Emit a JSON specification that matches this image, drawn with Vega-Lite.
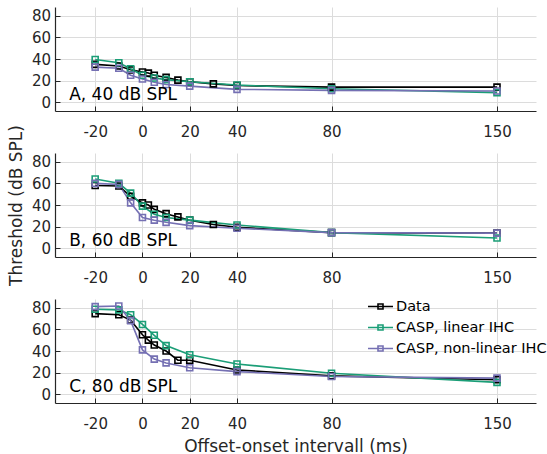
{
  "$schema": "https://vega.github.io/schema/vega-lite/v6.json",
  "padding": {"left": 7, "top": 7, "right": 0, "bottom": 0},
  "background": "white",
  "spacing": 42,
  "bounds": "flush",
  "config": {
    "font": "DejaVu Sans",
    "view": {"stroke": null},
    "axis": {
      "domainColor": "#262626",
      "domainWidth": 1.2,
      "tickColor": "#262626",
      "tickSize": -5,
      "tickWidth": 1,
      "gridColor": "#dcdcdc",
      "gridWidth": 1,
      "labelFontSize": 15,
      "labelColor": "#262626",
      "labelOverlap": false,
      "labelExpr": "'' + datum.value",
      "titleFontSize": 17,
      "titleFontWeight": "normal",
      "titleColor": "#262626"
    },
    "axisX": {"labelPadding": 18, "tickCount": 20},
    "axisY": {"labelPadding": 9.5, "tickCount": 10}
  },
  "datasets": {
    "thr": [
      {"level": 40, "series": "Data", "interval": -20, "threshold": 35},
      {"level": 40, "series": "Data", "interval": -10, "threshold": 33.5},
      {"level": 40, "series": "Data", "interval": -5, "threshold": 30},
      {"level": 40, "series": "Data", "interval": 0, "threshold": 28},
      {"level": 40, "series": "Data", "interval": 2.5, "threshold": 27},
      {"level": 40, "series": "Data", "interval": 5, "threshold": 25},
      {"level": 40, "series": "Data", "interval": 10, "threshold": 23},
      {"level": 40, "series": "Data", "interval": 15, "threshold": 20.5},
      {"level": 40, "series": "Data", "interval": 20, "threshold": 19},
      {"level": 40, "series": "Data", "interval": 30, "threshold": 17},
      {"level": 40, "series": "Data", "interval": 40, "threshold": 15.5},
      {"level": 40, "series": "Data", "interval": 80, "threshold": 14},
      {"level": 40, "series": "Data", "interval": 150, "threshold": 14},
      {"level": 40, "series": "CASP, linear IHC", "interval": -20, "threshold": 39.5},
      {"level": 40, "series": "CASP, linear IHC", "interval": -10, "threshold": 36.5},
      {"level": 40, "series": "CASP, linear IHC", "interval": -5, "threshold": 31},
      {"level": 40, "series": "CASP, linear IHC", "interval": 0, "threshold": 25},
      {"level": 40, "series": "CASP, linear IHC", "interval": 5, "threshold": 22.5},
      {"level": 40, "series": "CASP, linear IHC", "interval": 10, "threshold": 21},
      {"level": 40, "series": "CASP, linear IHC", "interval": 20, "threshold": 19},
      {"level": 40, "series": "CASP, linear IHC", "interval": 40, "threshold": 16},
      {"level": 40, "series": "CASP, linear IHC", "interval": 80, "threshold": 12.5},
      {"level": 40, "series": "CASP, linear IHC", "interval": 150, "threshold": 9},
      {"level": 40, "series": "CASP, non-linear IHC", "interval": -20, "threshold": 32.5},
      {"level": 40, "series": "CASP, non-linear IHC", "interval": -10, "threshold": 31.5},
      {"level": 40, "series": "CASP, non-linear IHC", "interval": -5, "threshold": 25},
      {"level": 40, "series": "CASP, non-linear IHC", "interval": 0, "threshold": 21.5},
      {"level": 40, "series": "CASP, non-linear IHC", "interval": 5, "threshold": 18.5},
      {"level": 40, "series": "CASP, non-linear IHC", "interval": 10, "threshold": 16.5},
      {"level": 40, "series": "CASP, non-linear IHC", "interval": 20, "threshold": 15},
      {"level": 40, "series": "CASP, non-linear IHC", "interval": 40, "threshold": 12},
      {"level": 40, "series": "CASP, non-linear IHC", "interval": 80, "threshold": 11},
      {"level": 40, "series": "CASP, non-linear IHC", "interval": 150, "threshold": 10.5},

      {"level": 60, "series": "Data", "interval": -20, "threshold": 58},
      {"level": 60, "series": "Data", "interval": -10, "threshold": 57.5},
      {"level": 60, "series": "Data", "interval": -5, "threshold": 48},
      {"level": 60, "series": "Data", "interval": 0, "threshold": 42},
      {"level": 60, "series": "Data", "interval": 2.5, "threshold": 40},
      {"level": 60, "series": "Data", "interval": 5, "threshold": 36},
      {"level": 60, "series": "Data", "interval": 10, "threshold": 32},
      {"level": 60, "series": "Data", "interval": 15, "threshold": 29},
      {"level": 60, "series": "Data", "interval": 20, "threshold": 26},
      {"level": 60, "series": "Data", "interval": 30, "threshold": 22},
      {"level": 60, "series": "Data", "interval": 40, "threshold": 19.5},
      {"level": 60, "series": "Data", "interval": 80, "threshold": 14.5},
      {"level": 60, "series": "Data", "interval": 150, "threshold": 14},
      {"level": 60, "series": "CASP, linear IHC", "interval": -20, "threshold": 64},
      {"level": 60, "series": "CASP, linear IHC", "interval": -10, "threshold": 60},
      {"level": 60, "series": "CASP, linear IHC", "interval": -5, "threshold": 51},
      {"level": 60, "series": "CASP, linear IHC", "interval": 0, "threshold": 39},
      {"level": 60, "series": "CASP, linear IHC", "interval": 5, "threshold": 31.5},
      {"level": 60, "series": "CASP, linear IHC", "interval": 10, "threshold": 28.5},
      {"level": 60, "series": "CASP, linear IHC", "interval": 20, "threshold": 26},
      {"level": 60, "series": "CASP, linear IHC", "interval": 40, "threshold": 21.5},
      {"level": 60, "series": "CASP, linear IHC", "interval": 80, "threshold": 14.5},
      {"level": 60, "series": "CASP, linear IHC", "interval": 150, "threshold": 9.5},
      {"level": 60, "series": "CASP, non-linear IHC", "interval": -20, "threshold": 60},
      {"level": 60, "series": "CASP, non-linear IHC", "interval": -10, "threshold": 59},
      {"level": 60, "series": "CASP, non-linear IHC", "interval": -5, "threshold": 42},
      {"level": 60, "series": "CASP, non-linear IHC", "interval": 0, "threshold": 28.5},
      {"level": 60, "series": "CASP, non-linear IHC", "interval": 5, "threshold": 26},
      {"level": 60, "series": "CASP, non-linear IHC", "interval": 10, "threshold": 24},
      {"level": 60, "series": "CASP, non-linear IHC", "interval": 20, "threshold": 21},
      {"level": 60, "series": "CASP, non-linear IHC", "interval": 40, "threshold": 18.5},
      {"level": 60, "series": "CASP, non-linear IHC", "interval": 80, "threshold": 14.5},
      {"level": 60, "series": "CASP, non-linear IHC", "interval": 150, "threshold": 14},

      {"level": 80, "series": "Data", "interval": -20, "threshold": 74.5},
      {"level": 80, "series": "Data", "interval": -10, "threshold": 73.5},
      {"level": 80, "series": "Data", "interval": -5, "threshold": 68.5},
      {"level": 80, "series": "Data", "interval": 0, "threshold": 55},
      {"level": 80, "series": "Data", "interval": 2.5, "threshold": 50},
      {"level": 80, "series": "Data", "interval": 5, "threshold": 45.5},
      {"level": 80, "series": "Data", "interval": 10, "threshold": 40},
      {"level": 80, "series": "Data", "interval": 15, "threshold": 31.5},
      {"level": 80, "series": "Data", "interval": 20, "threshold": 31.5},
      {"level": 80, "series": "Data", "interval": 40, "threshold": 22.5},
      {"level": 80, "series": "Data", "interval": 80, "threshold": 17},
      {"level": 80, "series": "Data", "interval": 150, "threshold": 13.5},
      {"level": 80, "series": "CASP, linear IHC", "interval": -20, "threshold": 78.5},
      {"level": 80, "series": "CASP, linear IHC", "interval": -10, "threshold": 78},
      {"level": 80, "series": "CASP, linear IHC", "interval": -5, "threshold": 73.5},
      {"level": 80, "series": "CASP, linear IHC", "interval": 0, "threshold": 64.5},
      {"level": 80, "series": "CASP, linear IHC", "interval": 5, "threshold": 54.5},
      {"level": 80, "series": "CASP, linear IHC", "interval": 10, "threshold": 45},
      {"level": 80, "series": "CASP, linear IHC", "interval": 20, "threshold": 36.5},
      {"level": 80, "series": "CASP, linear IHC", "interval": 40, "threshold": 28},
      {"level": 80, "series": "CASP, linear IHC", "interval": 80, "threshold": 19.5},
      {"level": 80, "series": "CASP, linear IHC", "interval": 150, "threshold": 11},
      {"level": 80, "series": "CASP, non-linear IHC", "interval": -20, "threshold": 81},
      {"level": 80, "series": "CASP, non-linear IHC", "interval": -10, "threshold": 81.5},
      {"level": 80, "series": "CASP, non-linear IHC", "interval": -5, "threshold": 68},
      {"level": 80, "series": "CASP, non-linear IHC", "interval": 0, "threshold": 41},
      {"level": 80, "series": "CASP, non-linear IHC", "interval": 5, "threshold": 32.5},
      {"level": 80, "series": "CASP, non-linear IHC", "interval": 10, "threshold": 29},
      {"level": 80, "series": "CASP, non-linear IHC", "interval": 20, "threshold": 24.5},
      {"level": 80, "series": "CASP, non-linear IHC", "interval": 40, "threshold": 21},
      {"level": 80, "series": "CASP, non-linear IHC", "interval": 80, "threshold": 16.5},
      {"level": 80, "series": "CASP, non-linear IHC", "interval": 150, "threshold": 15}
    ],
    "labels": [
      {"level": 40, "label": "A, 40 dB SPL"},
      {"level": 60, "label": "B, 60 dB SPL"},
      {"level": 80, "label": "C, 80 dB SPL"}
    ]
  },
  "resolve": {"legend": {"color": "independent"}},
  "vconcat": [
    {
      "width": 481, "height": 104,
      "layer": [
        {
          "data": {"name": "thr"},
          "transform": [{"filter": "datum.level == 40"}],
          "mark": {"type": "line", "strokeWidth": 1.6},
          "encoding": {
            "x": {"field": "interval", "type": "quantitative", "scale": {"domain": [-37, 166.5], "nice": false, "zero": false}, "axis": {"values": [-20, 0, 20, 40, 80, 150], "title": null}},
            "y": {"field": "threshold", "type": "quantitative", "scale": {"domain": [-8, 88], "nice": false, "zero": false}, "axis": {"values": [0, 20, 40, 60, 80], "title": null}},
            "color": {"field": "series", "type": "nominal", "scale": {"domain": ["Data", "CASP, linear IHC", "CASP, non-linear IHC"], "range": ["#000000", "#1b9e77", "#7570b3"]}, "legend": null}
          }
        },
        {
          "data": {"name": "thr"},
          "transform": [{"filter": "datum.level == 40"}],
          "mark": {"type": "point", "shape": "square", "filled": false, "size": 36, "strokeWidth": 1.6, "opacity": 1},
          "encoding": {
            "x": {"field": "interval", "type": "quantitative"},
            "y": {"field": "threshold", "type": "quantitative"},
            "color": {"field": "series", "type": "nominal", "legend": null}
          }
        },
        {
          "data": {"name": "labels"},
          "transform": [{"filter": "datum.level == 40"}],
          "mark": {"type": "text", "align": "left", "baseline": "middle", "fontSize": 17, "color": "#000000"},
          "encoding": {
            "x": {"datum": -31},
            "y": {"datum": 7},
            "text": {"field": "label"}
          }
        }
      ]
    },
    {
      "width": 481, "height": 104,
      "layer": [
        {
          "data": {"name": "thr"},
          "transform": [{"filter": "datum.level == 60"}],
          "mark": {"type": "line", "strokeWidth": 1.6},
          "encoding": {
            "x": {"field": "interval", "type": "quantitative", "scale": {"domain": [-37, 166.5], "nice": false, "zero": false}, "axis": {"values": [-20, 0, 20, 40, 80, 150], "title": null}},
            "y": {"field": "threshold", "type": "quantitative", "scale": {"domain": [-8, 88], "nice": false, "zero": false}, "axis": {"values": [0, 20, 40, 60, 80], "title": "Threshold (dB SPL)", "titlePadding": 6}},
            "color": {"field": "series", "type": "nominal", "scale": {"domain": ["Data", "CASP, linear IHC", "CASP, non-linear IHC"], "range": ["#000000", "#1b9e77", "#7570b3"]}, "legend": null}
          }
        },
        {
          "data": {"name": "thr"},
          "transform": [{"filter": "datum.level == 60"}],
          "mark": {"type": "point", "shape": "square", "filled": false, "size": 36, "strokeWidth": 1.6, "opacity": 1},
          "encoding": {
            "x": {"field": "interval", "type": "quantitative"},
            "y": {"field": "threshold", "type": "quantitative"},
            "color": {"field": "series", "type": "nominal", "legend": null}
          }
        },
        {
          "data": {"name": "labels"},
          "transform": [{"filter": "datum.level == 60"}],
          "mark": {"type": "text", "align": "left", "baseline": "middle", "fontSize": 17, "color": "#000000"},
          "encoding": {
            "x": {"datum": -31},
            "y": {"datum": 7},
            "text": {"field": "label"}
          }
        }
      ]
    },
    {
      "width": 481, "height": 104,
      "layer": [
        {
          "data": {"name": "thr"},
          "transform": [{"filter": "datum.level == 80"}],
          "mark": {"type": "line", "strokeWidth": 1.6},
          "encoding": {
            "x": {"field": "interval", "type": "quantitative", "scale": {"domain": [-37, 166.5], "nice": false, "zero": false}, "axis": {"values": [-20, 0, 20, 40, 80, 150], "title": "Offset-onset intervall (ms)", "titlePadding": 7}},
            "y": {"field": "threshold", "type": "quantitative", "scale": {"domain": [-8, 88], "nice": false, "zero": false}, "axis": {"values": [0, 20, 40, 60, 80], "title": null}},
            "color": {"field": "series", "type": "nominal", "scale": {"domain": ["Data", "CASP, linear IHC", "CASP, non-linear IHC"], "range": ["#000000", "#1b9e77", "#7570b3"]},
              "legend": {"title": null, "orient": "none", "legendX": 318, "legendY": 0, "padding": 0,
                "symbolType": "M-2,0H2M-0.4,-0.4H0.4V0.4H-0.4Z", "symbolSize": 156, "symbolStrokeWidth": 1.6,
                "labelFontSize": 14.5, "labelColor": "#000000", "labelOffset": 8, "rowPadding": 6, "labelLimit": 300}}
          }
        },
        {
          "data": {"name": "thr"},
          "transform": [{"filter": "datum.level == 80"}],
          "mark": {"type": "point", "shape": "square", "filled": false, "size": 36, "strokeWidth": 1.6, "opacity": 1},
          "encoding": {
            "x": {"field": "interval", "type": "quantitative"},
            "y": {"field": "threshold", "type": "quantitative"},
            "color": {"field": "series", "type": "nominal"}
          }
        },
        {
          "data": {"name": "labels"},
          "transform": [{"filter": "datum.level == 80"}],
          "mark": {"type": "text", "align": "left", "baseline": "middle", "fontSize": 17, "color": "#000000"},
          "encoding": {
            "x": {"datum": -31},
            "y": {"datum": 7},
            "text": {"field": "label"}
          }
        }
      ]
    }
  ]
}
